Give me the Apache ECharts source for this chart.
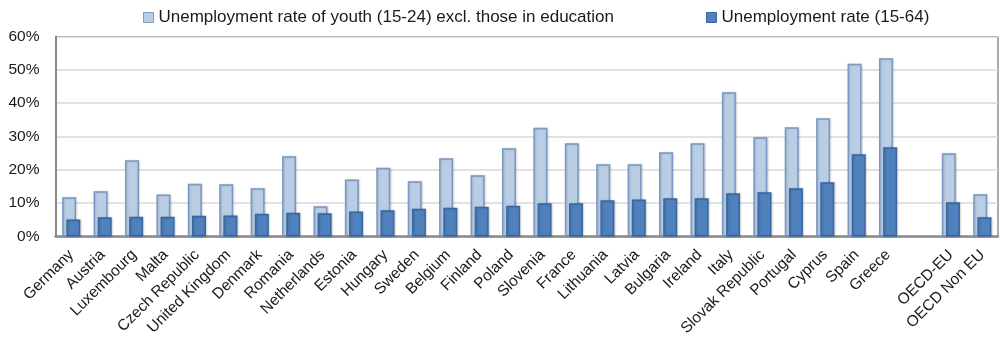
<!DOCTYPE html>
<html>
<head>
<meta charset="utf-8">
<script src="https://cdn.jsdelivr.net/npm/echarts@6/dist/echarts.min.js"></script>
<style>html,body{margin:0;padding:0;background:#fff}#c{width:999px;height:344px}</style>
</head>
<body>
<div id="c"></div>
<script>
const categories = ["Germany","Austria","Luxembourg","Malta","Czech Republic","United Kingdom","Denmark","Romania","Netherlands","Estonia","Hungary","Sweden","Belgium","Finland","Poland","Slovenia","France","Lithuania","Latvia","Bulgaria","Ireland","Italy","Slovak Republic","Portugal","Cyprus","Spain","Greece","","OECD-EU","OECD Non EU"];
const youthRate = [11.8,13.6,22.9,12.6,15.8,15.7,14.5,24.1,9.1,17.1,20.6,16.6,23.5,18.4,26.5,32.6,28.0,21.7,21.7,25.3,28.0,43.3,29.8,32.8,35.5,51.8,53.5,null,25.0,12.7];
const totalRate = [5.1,5.8,5.9,5.9,6.2,6.3,6.8,7.1,7.0,7.5,7.9,8.3,8.6,8.9,9.2,10.0,10.0,10.9,11.1,11.5,11.5,13.0,13.3,14.5,16.3,24.7,26.8,null,10.3,5.8];
const seriesNames = ["Unemployment rate of youth (15-24) excl. those in education","Unemployment rate (15-64)"];
const yTicks = {min:0, max:60, interval:10};

const FONT = "Liberation Sans";
const chart = echarts.init(document.getElementById('c'), null, {renderer:'canvas'});
chart.setOption({
  animation:false,
  textStyle:{fontFamily:FONT},
  legend:{
    left:143, top:9, padding:0, itemWidth:10, itemHeight:10, itemGap:92,
    textStyle:{fontFamily:FONT, fontSize:17, color:'#1a1a1a'},
    data:[
      {name:seriesNames[0], icon:'rect', itemStyle:{color:'#B9CDE5', borderColor:'#7F9DC4', borderWidth:1}},
      {name:seriesNames[1], icon:'rect', itemStyle:{color:'#4F81BD', borderColor:'#3A67A0', borderWidth:1}}
    ]
  },
  grid:{left:55.5, right:1, top:36.5, bottom:107.5, show:true, borderColor:'#595959', borderWidth:1},
  xAxis:{
    type:'category', data:categories,
    axisLine:{show:true, lineStyle:{color:'#898989', width:2.5}},
    axisTick:{show:false},
    axisLabel:{interval:0, rotate:45, fontFamily:FONT, fontSize:15.5, color:'#1a1a1a', margin:16}
  },
  yAxis:{
    type:'value', min:yTicks.min, max:yTicks.max, interval:yTicks.interval,
    axisLine:{show:true, lineStyle:{color:'#898989', width:2}},
    axisTick:{show:false},
    splitLine:{lineStyle:{color:'#D9D9D9', width:1.5}},
    axisLabel:{formatter:'{value}%', fontFamily:FONT, fontSize:15.5, color:'#1a1a1a', margin:16}
  },
  series:[
    {name:seriesNames[0], type:'bar', data:youthRate, barWidth:14, barGap:'-70%',
     itemStyle:{color:'#B9CDE5', borderColor:'#7A98C2', borderWidth:1.5, shadowColor:'rgba(0,0,0,0.15)', shadowBlur:2, shadowOffsetX:1}},
    {name:seriesNames[1], type:'bar', data:totalRate, barWidth:14,
     itemStyle:{color:'#4F81BD', borderColor:'#3A67A0', borderWidth:1.5, shadowColor:'rgba(0,0,0,0.15)', shadowBlur:2, shadowOffsetX:1}}
  ]
});
</script>
</body>
</html>
